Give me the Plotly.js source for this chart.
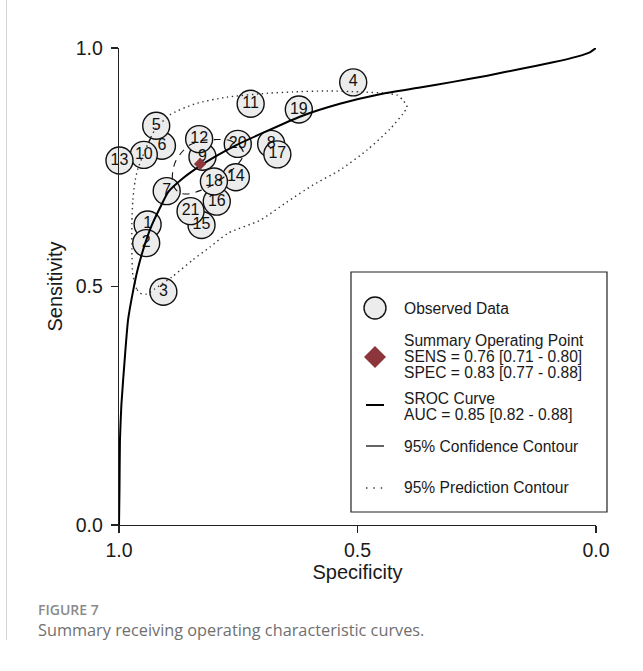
<!DOCTYPE html>
<html>
<head>
<meta charset="utf-8">
<script src="https://cdn.plot.ly/plotly-3.0.1.min.js"></script>
<style>
  html, body { margin: 0; padding: 0; background: #ffffff; }
  #wrap { position: relative; width: 643px; height: 671px; }
  #chart { position: absolute; left: 0; top: 0; width: 643px; height: 671px; }
  #edge { position: absolute; left: 6px; top: 0; width: 1px; height: 640px; background: #d4d4d4; z-index: 5; }
</style>
</head>
<body>
<div id="wrap"><div id="chart"></div><div id="edge"></div></div>
<script>
// ---- Observed study data (specificity, sensitivity) ----
const studyLabels = ['6','5','10','13','9','12','15','21','16','14','18','20','1','2','7','8','17','11','19','4','3'];
const studySpec   = [0.910,0.922,0.948,0.999,0.825,0.832,0.827,0.850,0.795,0.755,0.801,0.751,0.940,0.943,0.900,0.681,0.668,0.724,0.623,0.509,0.907];
const studySens   = [0.795,0.837,0.776,0.764,0.772,0.809,0.629,0.658,0.678,0.729,0.720,0.799,0.630,0.591,0.700,0.799,0.777,0.883,0.871,0.928,0.489];

// ---- Summary operating point ----
const summarySpec = [0.83];
const summarySens = [0.757];
const sensCI = ['0.76', '0.71', '0.80'];
const specCI = ['0.83', '0.77', '0.88'];
const aucCI  = ['0.85', '0.82', '0.88'];

// ---- SROC curve ----
const srocSpec = [1.000,0.999,0.998,0.995,0.987,0.981,0.970,0.961,0.945,0.931,0.914,0.897,0.866,0.830,0.792,0.753,0.694,0.621,0.537,0.453,0.369,0.300,0.228,0.159,0.090,0.040,0.013,0.000];
const srocSens = [0.000,0.073,0.178,0.252,0.361,0.430,0.493,0.535,0.591,0.629,0.665,0.698,0.727,0.753,0.776,0.797,0.824,0.856,0.883,0.903,0.917,0.929,0.942,0.956,0.970,0.982,0.991,1.000];

// ---- 95% confidence contour ----
const confSpec = [0.799,0.771,0.751,0.740,0.742,0.755,0.778,0.805,0.830,0.855,0.872,0.883,0.888,0.887,0.881,0.868,0.851,0.826,0.799];
const confSens = [0.808,0.807,0.797,0.784,0.769,0.752,0.731,0.712,0.701,0.694,0.696,0.706,0.723,0.744,0.763,0.782,0.797,0.806,0.808];

// ---- 95% prediction contour ----
const predSpec = [0.956,0.963,0.971,0.973,0.973,0.971,0.966,0.960,0.945,0.925,0.893,0.841,0.774,0.690,0.635,0.564,0.495,0.438,0.417,0.405,0.396,0.405,0.432,0.480,0.537,0.593,0.648,0.704,0.771,0.809,0.845,0.889,0.925,0.942,0.956];
const predSens = [0.486,0.495,0.524,0.577,0.633,0.681,0.723,0.748,0.786,0.828,0.860,0.883,0.897,0.905,0.908,0.910,0.908,0.905,0.901,0.891,0.876,0.862,0.830,0.786,0.744,0.713,0.677,0.639,0.612,0.583,0.556,0.520,0.495,0.484,0.486];

// ---- Axis ticks ----
const tickVals = [1.0, 0.5, 0.0];
const tickText = ['1.0', '0.5', '0.0'];

const FONT = 'Liberation Sans, Arial, Helvetica, sans-serif';
const INK = '#1a1a1a';

const traces = [
  {
    type: 'scatter', mode: 'markers+text', name: 'Observed Data',
    x: studySpec, y: studySens, text: studyLabels,
    textposition: 'middle center',
    textfont: { family: FONT, size: 16, color: '#111111' },
    marker: { symbol: 'circle', size: 27, color: '#ececec', line: { color: '#111111', width: 1.4 } },
    cliponaxis: false, hoverinfo: 'x+y+text'
  },
  {
    type: 'scatter', mode: 'lines', name: '95% Prediction Contour',
    x: predSpec, y: predSens,
    line: { color: '#333333', width: 1.4, dash: '1.4px,3.6px', shape: 'spline', smoothing: 0.6 },
    cliponaxis: false
  },
  {
    type: 'scatter', mode: 'lines', name: '95% Confidence Contour',
    x: confSpec, y: confSens,
    line: { color: '#111111', width: 1.1, dash: '7px,6px', shape: 'spline', smoothing: 0.8 },
    cliponaxis: false
  },
  {
    type: 'scatter', mode: 'lines', name: 'SROC Curve',
    x: srocSpec, y: srocSens,
    line: { color: '#000000', width: 2, shape: 'spline', smoothing: 0.5 },
    cliponaxis: false
  },
  {
    type: 'scatter', mode: 'markers', name: 'Summary Operating Point',
    x: summarySpec, y: summarySens,
    marker: { symbol: 'diamond', size: 9.5, color: '#8c353b', line: { width: 0 } },
    cliponaxis: false
  }
];

// pixel helpers for legend layout (paper coordinates of the plot area 119..596 x 48..525)
const L = 119, T = 48, W = 477, H = 477;
const px = v => (v - L) / W;
const py = v => (T + H - v) / H;

const legendText = [
  ['Observed Data', 308],
  ['Summary Operating Point', 341],
  ['SENS = ' + sensCI[0] + ' [' + sensCI[1] + ' - ' + sensCI[2] + ']', 356.5],
  ['SPEC = ' + specCI[0] + ' [' + specCI[1] + ' - ' + specCI[2] + ']', 372],
  ['SROC Curve', 398],
  ['AUC = ' + aucCI[0] + ' [' + aucCI[1] + ' - ' + aucCI[2] + ']', 414],
  ['95% Confidence Contour', 446],
  ['95% Prediction Contour', 487.5]
];

const annotations = legendText.map(([t, y]) => ({
  xref: 'paper', yref: 'paper', x: px(402), y: py(y),
  xanchor: 'left', yanchor: 'middle', showarrow: false,
  text: t, font: { family: FONT, size: 15.6, color: INK }
}));

annotations.push({
  xref: 'paper', yref: 'paper', x: px(35.5), y: py(609.5),
  xanchor: 'left', yanchor: 'middle', showarrow: false,
  text: 'FIGURE 7', font: { family: 'Open Sans, sans-serif', size: 14, color: '#8a8a8a', weight: 600 }
});
annotations.push({
  xref: 'paper', yref: 'paper', x: px(35.5), y: py(629.5),
  xanchor: 'left', yanchor: 'middle', showarrow: false,
  text: 'Summary receiving operating characteristic curves.',
  font: { family: 'Open Sans, sans-serif', size: 16.3, color: '#707070' }
});

const shapes = [
  // legend box
  { type: 'rect', xref: 'paper', yref: 'paper', x0: px(351), x1: px(607), y0: py(512), y1: py(272),
    line: { color: '#222222', width: 1.2 }, fillcolor: 'rgba(0,0,0,0)' },
  // observed data symbol
  { type: 'circle', xref: 'paper', yref: 'paper', xsizemode: 'pixel', ysizemode: 'pixel',
    xanchor: px(375), yanchor: py(308), x0: -11, x1: 11, y0: -11, y1: 11,
    fillcolor: '#ececec', line: { color: '#111111', width: 1.4 } },
  // summary point symbol
  { type: 'path', xref: 'paper', yref: 'paper', xsizemode: 'pixel', ysizemode: 'pixel',
    xanchor: px(375), yanchor: py(357), path: 'M -11 0 L 0 11 L 11 0 L 0 -11 Z',
    fillcolor: '#8c353b', line: { width: 0 } },
  // SROC line symbol
  { type: 'line', xref: 'paper', yref: 'paper', x0: px(366), x1: px(384), y0: py(405), y1: py(405),
    line: { color: '#000000', width: 2 } },
  // confidence contour symbol
  { type: 'line', xref: 'paper', yref: 'paper', x0: px(366), x1: px(384), y0: py(446), y1: py(446),
    line: { color: '#111111', width: 1.3 } },
  // prediction contour symbol
  { type: 'line', xref: 'paper', yref: 'paper', x0: px(366), x1: px(383), y0: py(488), y1: py(488),
    line: { color: '#333333', width: 1.4, dash: '1.4px,6px' } }
];

const axisCommon = {
  tickvals: tickVals, ticktext: tickText,
  ticks: 'outside', ticklen: 7, tickwidth: 1.2, tickcolor: '#222222',
  showline: true, linecolor: '#222222', linewidth: 1.3,
  showgrid: false, zeroline: false, automargin: false,
  tickfont: { family: FONT, size: 19.5, color: INK }
};

const layout = {
  width: 643, height: 671,
  margin: { l: L, r: 643 - L - W, t: T, b: 671 - T - H, pad: 0 },
  paper_bgcolor: '#ffffff', plot_bgcolor: '#ffffff',
  showlegend: false,
  font: { family: FONT, color: INK },
  xaxis: Object.assign({}, axisCommon, {
    range: [1, 0],
    title: { text: 'Specificity', font: { family: FONT, size: 20, color: INK }, standoff: 4 }
  }),
  yaxis: Object.assign({}, axisCommon, {
    range: [0, 1], ticklabelstandoff: 4,
    title: { text: 'Sensitivity', font: { family: FONT, size: 20, color: INK }, standoff: 7 }
  }),
  annotations: annotations,
  shapes: shapes
};

Plotly.newPlot('chart', traces, layout, { staticPlot: true, displayModeBar: false });
</script>
</body>
</html>
